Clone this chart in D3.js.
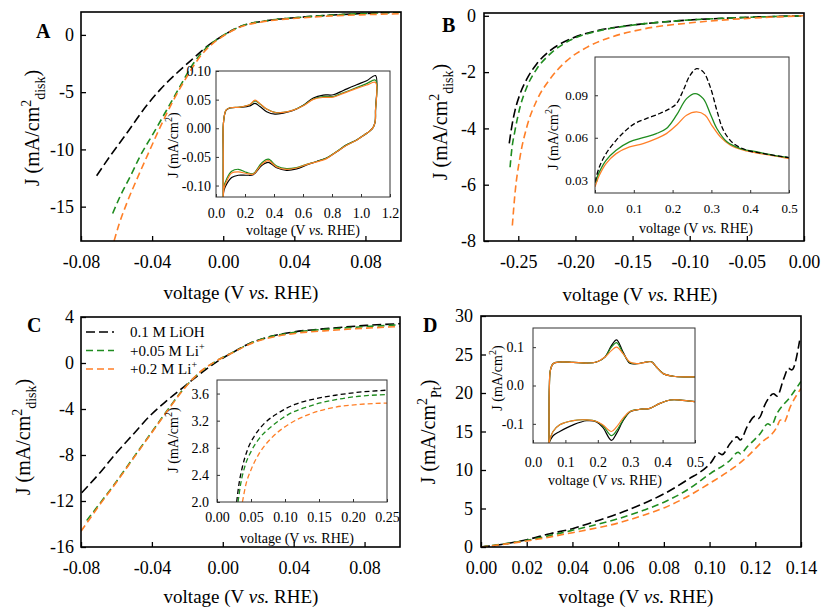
<!DOCTYPE html>
<html>
<head>
<meta charset="utf-8">
<script src="https://cdn.jsdelivr.net/npm/d3@7"></script>
<style>
  body { margin: 0; background: #fff; }
  svg { font-family: "Liberation Serif", "Times New Roman", serif; }
</style>
</head>
<body>
<div id="visual"></div>
<script>
// ---------- data ----------
// panel A: LSV, V vs RHE / mA cm-2 disk
let vA_black = [-0.0712, -0.0637, -0.0543, -0.045, -0.0356, -0.0262, -0.0168, -0.0093, 0, 0.0094, 0.0244, 0.043, 0.0618, 0.081, 0.1]
let jA_black = [-12.3, -10.6, -8.6, -6.56, -4.8, -3.35, -2.04, -1.03, -0.05, 0.72, 1.24, 1.53, 1.74, 1.88, 2.0]
let vA_green = [-0.0622, -0.058, -0.0524, -0.0468, -0.0393, -0.0318, -0.0243, -0.0168, -0.0093, 0, 0.0094, 0.0244, 0.043, 0.0618, 0.081, 0.1]
let jA_green = [-15.6, -14.1, -12.4, -10.6, -8.6, -6.56, -4.5, -2.5, -1.1, -0.05, 0.72, 1.24, 1.53, 1.74, 1.88, 1.98]
let vA_orange = [-0.0614, -0.0585, -0.054, -0.048, -0.042, -0.035, -0.028, -0.021, -0.014, -0.007, 0, 0.0094, 0.0244, 0.043, 0.0618, 0.081, 0.1]
let jA_orange = [-18, -16.5, -14.6, -12.4, -10.3, -7.9, -5.7, -3.8, -2.1, -0.9, -0.1, 0.68, 1.2, 1.47, 1.66, 1.77, 1.85]

// panel A inset: CV (anodic then cathodic branch)
let vA_up = [0.05, 0.05, 0.052, 0.069, 0.097, 0.166, 0.234, 0.269, 0.303, 0.349, 0.407, 0.464, 0.533, 0.602, 0.671, 0.740, 0.809, 0.878, 0.970, 1.039, 1.10]
let jA_up_black = [-0.12, -0.047, 0.011, 0.031, 0.0355, 0.0365, 0.039, 0.0434, 0.038, 0.029, 0.0247, 0.0265, 0.031, 0.04, 0.053, 0.058, 0.0585, 0.066, 0.076, 0.083, 0.092]
let jA_up_green = [-0.12, -0.047, 0.011, 0.0317, 0.0358, 0.037, 0.0414, 0.048, 0.0425, 0.0335, 0.0278, 0.028, 0.032, 0.0398, 0.051, 0.0555, 0.0555, 0.062, 0.071, 0.078, 0.084]
let jA_up_orange = [-0.12, -0.047, 0.011, 0.0317, 0.0358, 0.037, 0.0416, 0.049, 0.043, 0.0335, 0.0276, 0.0276, 0.0317, 0.0393, 0.0504, 0.0539, 0.0545, 0.0609, 0.0697, 0.0755, 0.080]
let vA_down = [1.10, 1.098, 1.085, 1.06, 1.02, 0.970, 0.901, 0.832, 0.763, 0.694, 0.625, 0.556, 0.487, 0.418, 0.361, 0.315, 0.257, 0.211, 0.154, 0.108, 0.074, 0.055, 0.05]
let jA_down_black = [0.03, 0.012, 0.002, -0.005, -0.012, -0.0205, -0.029, -0.041, -0.052, -0.058, -0.064, -0.071, -0.0735, -0.069, -0.0595, -0.065, -0.081, -0.082, -0.082, -0.086, -0.097, -0.108, -0.12]
let jA_down_green = [0.03, 0.012, 0.002, -0.005, -0.012, -0.0205, -0.029, -0.0405, -0.052, -0.058, -0.063, -0.0685, -0.0705, -0.066, -0.054, -0.0605, -0.079, -0.077, -0.0716, -0.075, -0.088, -0.102, -0.12]
let jA_down_orange = [0.03, 0.012, 0.002, -0.005, -0.012, -0.0208, -0.0296, -0.041, -0.053, -0.0587, -0.0634, -0.0693, -0.0718, -0.0675, -0.0565, -0.063, -0.080, -0.079, -0.076, -0.078, -0.092, -0.105, -0.12]

// panel B: LSV
let vB_black = [-0.2579, -0.2558, -0.2529, -0.2485, -0.2426, -0.2339, -0.2223, -0.2048, -0.1814, -0.1551, -0.1114, -0.0531, -0.0006]
let jB_black = [-4.53, -3.96, -3.37, -2.78, -2.25, -1.71, -1.24, -0.83, -0.53, -0.355, -0.18, -0.06, 0.0]
let vB_green = [-0.2572, -0.2558, -0.2529, -0.2485, -0.2426, -0.2339, -0.2223, -0.2048, -0.1814, -0.1551, -0.1114, -0.0531, -0.0006]
let jB_green = [-5.38, -4.79, -4.08, -3.25, -2.54, -1.89, -1.36, -0.87, -0.55, -0.36, -0.18, -0.06, 0.0]
let vB_orange = [-0.2552, -0.2529, -0.2485, -0.2426, -0.2339, -0.2223, -0.2077, -0.1901, -0.1697, -0.1406, -0.0968, -0.0531, -0.0006]
let jB_orange = [-7.45, -6.32, -5.02, -3.96, -3.01, -2.25, -1.6, -1.12, -0.77, -0.47, -0.24, -0.1, 0.0]

// panel B inset
let vBi_black = [0, 0.0112, 0.0285, 0.0545, 0.080, 0.102, 0.132, 0.167, 0.193, 0.210, 0.2275, 0.245, 0.262, 0.279, 0.297, 0.314, 0.331, 0.357, 0.392, 0.435, 0.478, 0.5]
let jBi_black = [0.0288, 0.0394, 0.0488, 0.0582, 0.0653, 0.070, 0.0735, 0.0771, 0.0806, 0.0841, 0.0935, 0.1041, 0.1088, 0.1065, 0.0959, 0.0794, 0.0653, 0.0559, 0.0512, 0.0488, 0.0469, 0.046]
let vBi_green = [0, 0.0112, 0.0285, 0.0545, 0.089, 0.124, 0.158, 0.184, 0.210, 0.236, 0.258, 0.279, 0.297, 0.314, 0.340, 0.375, 0.418, 0.461, 0.5]
let jBi_green = [0.0281, 0.0359, 0.0441, 0.0512, 0.0571, 0.0601, 0.0629, 0.0665, 0.0759, 0.0876, 0.0912, 0.0876, 0.077, 0.0665, 0.0571, 0.0524, 0.05, 0.0476, 0.046]
let vBi_orange = [0, 0.0112, 0.0285, 0.0545, 0.089, 0.124, 0.158, 0.184, 0.210, 0.236, 0.262, 0.284, 0.301, 0.323, 0.349, 0.383, 0.426, 0.470, 0.5]
let jBi_orange = [0.0253, 0.0335, 0.0418, 0.0488, 0.0535, 0.0559, 0.0594, 0.0629, 0.0688, 0.0759, 0.0782, 0.0759, 0.0688, 0.0606, 0.0547, 0.0512, 0.0488, 0.0469, 0.0453]

// panel C: LSV
let vC_black = [-0.0796, -0.0693, -0.0599, -0.0505, -0.0411, -0.0316, -0.0223, -0.0128, -0.0034, 0.006, 0.0154, 0.0248, 0.0398, 0.0624, 0.0812, 0.1]
let jC_black = [-11.28, -9.54, -7.79, -6.19, -4.59, -3.28, -2.11, -0.95, 0.1, 0.95, 1.72, 2.22, 2.69, 3.04, 3.27, 3.42]
let vC_green = [-0.0768, -0.0693, -0.0599, -0.0505, -0.0411, -0.0316, -0.0223, -0.0128, -0.0034, 0.006, 0.0154, 0.0248, 0.0398, 0.0624, 0.0812, 0.1]
let jC_green = [-13.7, -12.2, -10.28, -8.25, -6.22, -4.18, -2.28, -0.8, 0.2, 0.95, 1.7, 2.2, 2.65, 2.98, 3.17, 3.32]
let vC_orange = [-0.08, -0.0693, -0.0599, -0.0505, -0.0411, -0.0316, -0.0223, -0.0128, -0.0034, 0.006, 0.0154, 0.0248, 0.0398, 0.0624, 0.0812, 0.1]
let jC_orange = [-14.63, -12.3, -10.35, -8.31, -6.28, -4.24, -2.32, -0.78, 0.2, 0.93, 1.66, 2.13, 2.55, 2.85, 3.03, 3.18]

// panel C inset
let vCi_black = [0.0289, 0.0324, 0.0374, 0.0448, 0.0548, 0.0697, 0.0896, 0.1145, 0.139, 0.174, 0.209, 0.25]
let jCi_black = [2.0, 2.27, 2.52, 2.77, 2.97, 3.16, 3.31, 3.44, 3.51, 3.575, 3.62, 3.65]
let vCi_green = [0.0309, 0.0349, 0.0408, 0.0498, 0.0623, 0.0797, 0.1046, 0.1345, 0.169, 0.209, 0.25]
let jCi_green = [2.0, 2.27, 2.52, 2.74, 2.94, 3.11, 3.29, 3.41, 3.50, 3.56, 3.585]
let vCi_orange = [0.0374, 0.0423, 0.0498, 0.0623, 0.0797, 0.1046, 0.1345, 0.169, 0.209, 0.25]
let jCi_orange = [2.0, 2.25, 2.47, 2.72, 2.94, 3.14, 3.29, 3.39, 3.44, 3.46]

// panel D: LSV, mA cm-2 Pt
let vD_black = [0, 0.0069, 0.0127, 0.02, 0.0302, 0.04, 0.0492, 0.0601, 0.0711, 0.0803, 0.09, 0.1003, 0.104, 0.1055, 0.109, 0.112, 0.1135, 0.1164, 0.12, 0.1215, 0.1244, 0.128, 0.1295, 0.1325, 0.1345, 0.136, 0.1394]
let jD_black = [0, 0.22, 0.52, 0.95, 1.73, 2.38, 3.25, 4.33, 5.64, 6.94, 8.67, 10.84, 12.2, 12.0, 13.44, 14.3, 13.9, 15.6, 17.0, 16.7, 18.6, 19.9, 19.6, 21.9, 23.2, 23.0, 26.8]
let vD_green = [0, 0.02, 0.04, 0.0601, 0.0711, 0.0803, 0.09, 0.1003, 0.109, 0.1125, 0.1135, 0.1164, 0.1222, 0.1255, 0.127, 0.1295, 0.1353, 0.14]
let jD_green = [0, 0.87, 2.17, 3.68, 4.77, 5.85, 7.37, 9.54, 11.27, 12.3, 12.1, 13.0, 14.74, 16.0, 15.8, 17.34, 19.5, 21.5]
let vD_orange = [0, 0.02, 0.04, 0.0601, 0.0711, 0.0803, 0.09, 0.1003, 0.109, 0.1164, 0.1222, 0.1295, 0.131, 0.1325, 0.1353, 0.14]
let jD_orange = [0, 0.78, 1.86, 3.12, 4.12, 5.11, 6.5, 8.32, 9.97, 11.7, 13.44, 15.6, 16.5, 16.2, 18.2, 20.6]

// panel D inset: CV
let vD_up = [0.0495, 0.0495, 0.0505, 0.0536, 0.0619, 0.0825, 0.1237, 0.165, 0.196, 0.222, 0.242, 0.258, 0.278, 0.299, 0.32, 0.35, 0.366, 0.381, 0.402, 0.433, 0.474, 0.5]
let jD_up_black = [-0.15, -0.0897, -0.0034, 0.0397, 0.0569, 0.0612, 0.0603, 0.0586, 0.0612, 0.0741, 0.104, 0.119, 0.087, 0.058, 0.0569, 0.0612, 0.062, 0.0483, 0.031, 0.0241, 0.0224, 0.0224]
let jD_up_green = [-0.15, -0.0897, -0.0034, 0.0397, 0.0569, 0.0612, 0.0603, 0.0586, 0.0612, 0.0741, 0.100, 0.112, 0.084, 0.060, 0.0569, 0.0612, 0.062, 0.0483, 0.031, 0.0241, 0.0224, 0.0224]
let jD_up_orange = [-0.15, -0.0897, -0.0034, 0.0397, 0.0569, 0.0612, 0.0603, 0.0586, 0.0612, 0.0741, 0.091, 0.100, 0.083, 0.0612, 0.0569, 0.0612, 0.0612, 0.0483, 0.031, 0.0241, 0.0224, 0.0224]
let vD_down = [0.5, 0.454, 0.423, 0.392, 0.361, 0.330, 0.299, 0.278, 0.258, 0.242, 0.216, 0.196, 0.165, 0.124, 0.0825, 0.0619, 0.0495]
let jD_down_black = [-0.0422, -0.0379, -0.0379, -0.0466, -0.0595, -0.062, -0.069, -0.092, -0.125, -0.143, -0.11, -0.095, -0.092, -0.1026, -0.12, -0.131, -0.15]
let jD_down_green = [-0.0422, -0.0379, -0.0379, -0.0466, -0.0595, -0.062, -0.068, -0.09, -0.118, -0.131, -0.105, -0.094, -0.0897, -0.0914, -0.1026, -0.12, -0.15]
let jD_down_orange = [-0.0422, -0.0379, -0.0379, -0.0466, -0.0595, -0.062, -0.068, -0.085, -0.108, -0.120, -0.103, -0.094, -0.0897, -0.0914, -0.1026, -0.12, -0.15]

let legendLabels = ["0.1 M LiOH", "+0.05 M Li", "+0.2 M Li"]

// ---------- drawing ----------
const BLACK = "#000000", GREEN = "#1f8c1f", ORANGE = "#ff7f27"

const svg = d3.select("#visual")
    .append("svg")
    .attr("width", 821)
    .attr("height", 608)

let clipCount = 0
const fix = s => s.replace("\u2212", "-")

function makePanel(cfg) {
    let x = d3.scaleLinear().domain(cfg.xDom).range([cfg.left, cfg.right])
    let y = d3.scaleLinear().domain(cfg.yDom).range([cfg.bottom, cfg.top])
    let g = svg.append("g")
    let w = cfg.right - cfg.left, h = cfg.bottom - cfg.top

    if (cfg.inset) {
        g.append("rect").attr("x", cfg.left).attr("y", cfg.top)
            .attr("width", w).attr("height", h).attr("fill", "#fff")
    }
    let id = "clip" + (clipCount++)
    g.append("clipPath").attr("id", id).append("rect")
        .attr("x", cfg.left).attr("y", cfg.top).attr("width", w).attr("height", h)

    let fs = cfg.inset ? cfg.tickFont || 13 : 18
    let tick = cfg.inset ? 3 : 5

    let xAxis = g.append("g").attr("transform", "translate(0," + cfg.bottom + ")")
        .call(d3.axisBottom(x).tickValues(cfg.xTicks).tickSize(-tick)
            .tickPadding(cfg.xPad).tickFormat(d => fix(d3.format(cfg.xFmt)(d))))
    let yAxis = g.append("g").attr("transform", "translate(" + cfg.left + ",0)")
        .call(d3.axisLeft(y).tickValues(cfg.yTicks).tickSize(-tick)
            .tickPadding(cfg.yPad).tickFormat(d => fix(d3.format(cfg.yFmt)(d))))
    for (let a of [xAxis, yAxis]) {
        a.select(".domain").remove()
        a.attr("font-family", null).attr("font-size", fs)
        a.selectAll("line").attr("stroke", cfg.inset ? "#333" : "#000").attr("stroke-width", cfg.inset ? 1 : 1.3)
        a.selectAll("text").attr("fill", "#000")
    }

    let plot = g.append("g").attr("clip-path", "url(#" + id + ")")

    g.append("rect").attr("x", cfg.left).attr("y", cfg.top)
        .attr("width", w).attr("height", h)
        .attr("fill", "none")
        .attr("stroke", cfg.inset ? "#333" : "#000")
        .attr("stroke-width", cfg.inset ? 1 : 1.6)

    return { x, y, g, plot }
}

function series(p, vs, js, color, dash, width, curve) {
    let pts = vs.map((v, i) => [v, js[i]])
    p.plot.append("path")
        .datum(pts)
        .attr("fill", "none")
        .attr("stroke", color)
        .attr("stroke-width", width)
        .attr("stroke-dasharray", dash)
        .attr("stroke-linejoin", "round")
        .attr("d", d3.line().x(d => p.x(d[0])).y(d => p.y(d[1])).curve(curve))
}

function xLabel(cx, by, size) {
    let t = svg.append("text").attr("x", cx).attr("y", by)
        .attr("text-anchor", "middle").attr("font-size", size)
    t.append("tspan").text("voltage (V ")
    t.append("tspan").attr("font-style", "italic").text("vs.")
    t.append("tspan").text(" RHE)")
}

function yLabel(cx, cy, size, sub) {
    let small = Math.round(size * 0.68)
    let t = svg.append("text")
        .attr("transform", "translate(" + cx + "," + cy + ") rotate(-90)")
        .attr("text-anchor", "middle").attr("dy", "0.35em")
        .attr("font-size", size)
    t.append("tspan").text("J (mA/cm")
    t.append("tspan").attr("font-size", small).attr("dy", -size * 0.42).text("2")
    if (sub) {
        t.append("tspan").attr("font-size", small).attr("dy", size * 0.7).text(sub)
        t.append("tspan").attr("dy", -size * 0.28).text(")")
    } else {
        t.append("tspan").attr("dy", size * 0.42).text(")")
    }
}

function letter(s, x, y) {
    svg.append("text").attr("x", x).attr("y", y).attr("font-size", 20)
        .attr("font-weight", "bold").text(s)
}

const mono = d3.curveMonotoneX
const cr = d3.curveCatmullRom.alpha(0.5)
const mainDash = { black: "9,4", green: "7,4", orange: "7,4" }

// ----- panel A -----
let pA = makePanel({ left: 81, right: 401, top: 12, bottom: 241,
    xDom: [-0.08, 0.1], yDom: [-18, 2],
    xTicks: [-0.08, -0.04, 0, 0.04, 0.08], yTicks: [0, -5, -10, -15],
    xFmt: ".2f", yFmt: "d", xPad: 14, yPad: 7 })
series(pA, vA_black, jA_black, BLACK, mainDash.black, 1.6, mono)
series(pA, vA_green, jA_green, GREEN, mainDash.green, 1.6, mono)
series(pA, vA_orange, jA_orange, ORANGE, mainDash.orange, 1.6, mono)
letter("A", 36, 38)
yLabel(32, 128, 20, "disk")
xLabel(241, 299, 19)

let iA = makePanel({ inset: true, left: 216, right: 390, top: 71, bottom: 197,
    xDom: [0, 1.2], yDom: [-0.12, 0.10],
    xTicks: [0, 0.2, 0.4, 0.6, 0.8, 1.0, 1.2], yTicks: [0.10, 0.05, 0, -0.05, -0.10],
    xFmt: ".1f", yFmt: ".2f", xPad: 11, yPad: 5, tickFont: 14 })
series(iA, vA_up.concat(vA_down), jA_up_black.concat(jA_down_black), BLACK, null, 1.2, cr)
series(iA, vA_up.concat(vA_down), jA_up_green.concat(jA_down_green), GREEN, null, 1.2, cr)
series(iA, vA_up.concat(vA_down), jA_up_orange.concat(jA_down_orange), ORANGE, null, 1.2, cr)
yLabel(173, 145, 14, null)
xLabel(303, 235, 14)

// ----- panel B -----
let pB = makePanel({ left: 484, right: 804, top: 13, bottom: 241,
    xDom: [-0.28, 0], yDom: [-8, 0.1],
    xTicks: [-0.25, -0.2, -0.15, -0.1, -0.05, 0], yTicks: [0, -2, -4, -6, -8],
    xFmt: ".2f", yFmt: "d", xPad: 14, yPad: 8 })
series(pB, vB_black, jB_black, BLACK, mainDash.black, 1.6, mono)
series(pB, vB_green, jB_green, GREEN, mainDash.green, 1.6, mono)
series(pB, vB_orange, jB_orange, ORANGE, mainDash.orange, 1.6, mono)
letter("B", 442, 32)
yLabel(440, 122, 20, "disk")
xLabel(640, 301, 19)

let iB = makePanel({ inset: true, left: 595, right: 789, top: 57, bottom: 193,
    xDom: [0, 0.5], yDom: [0.021, 0.117],
    xTicks: [0, 0.1, 0.2, 0.3, 0.4, 0.5], yTicks: [0.03, 0.06, 0.09],
    xFmt: ".1f", yFmt: ".2f", xPad: 11, yPad: 7, tickFont: 13 })
series(iB, vBi_orange, jBi_orange, ORANGE, null, 1.3, cr)
series(iB, vBi_green, jBi_green, GREEN, null, 1.3, cr)
series(iB, vBi_black, jBi_black, BLACK, "5,2.5", 1.3, cr)
yLabel(553, 137, 14, null)
xLabel(696, 233, 14)

// ----- panel C -----
let pC = makePanel({ left: 81, right: 400, top: 317, bottom: 547,
    xDom: [-0.08, 0.1], yDom: [-16, 4],
    xTicks: [-0.08, -0.04, 0, 0.04, 0.08], yTicks: [4, 0, -4, -8, -12, -16],
    xFmt: ".2f", yFmt: "d", xPad: 14, yPad: 7 })
series(pC, vC_black, jC_black, BLACK, mainDash.black, 1.6, mono)
series(pC, vC_green, jC_green, GREEN, mainDash.green, 1.6, mono)
series(pC, vC_orange, jC_orange, ORANGE, mainDash.orange, 1.6, mono)
letter("C", 27, 332)
yLabel(23, 437, 20, "disk")
xLabel(241, 603, 19)

// legend
let legendColors = [BLACK, GREEN, ORANGE]
let legendDash = [mainDash.black, mainDash.green, mainDash.orange]
let legendY = d3.scalePoint().domain(legendLabels).range([332, 369])
let lg = svg.append("g")
legendLabels.forEach((lab, i) => {
    let yy = legendY(lab)
    lg.append("line").attr("x1", 86).attr("x2", 114).attr("y1", yy).attr("y2", yy)
        .attr("stroke", legendColors[i]).attr("stroke-width", 1.6).attr("stroke-dasharray", legendDash[i])
    let t = lg.append("text").attr("x", 130).attr("y", yy + 5).attr("font-size", 15)
    t.append("tspan").text(lab)
    if (i > 0) t.append("tspan").attr("font-size", 10).attr("dy", -6).text("+")
})

let iC = makePanel({ inset: true, left: 217, right: 387, top: 380, bottom: 502,
    xDom: [0, 0.25], yDom: [2.0, 3.8],
    xTicks: [0, 0.05, 0.1, 0.15, 0.2, 0.25], yTicks: [2.0, 2.4, 2.8, 3.2, 3.6],
    xFmt: ".2f", yFmt: ".1f", xPad: 10, yPad: 8, tickFont: 14 })
series(iC, vCi_black, jCi_black, BLACK, "5,3", 1.3, mono)
series(iC, vCi_green, jCi_green, GREEN, "5,3", 1.3, mono)
series(iC, vCi_orange, jCi_orange, ORANGE, "5,3", 1.3, mono)
yLabel(173, 440, 14, null)
xLabel(297, 543, 14)

// ----- panel D -----
let pD = makePanel({ left: 481, right: 801, top: 316, bottom: 547,
    xDom: [0, 0.14], yDom: [0, 30],
    xTicks: [0, 0.02, 0.04, 0.06, 0.08, 0.1, 0.12, 0.14], yTicks: [0, 5, 10, 15, 20, 25, 30],
    xFmt: ".2f", yFmt: "d", xPad: 14, yPad: 8 })
series(pD, vD_black, jD_black, BLACK, mainDash.black, 1.6, mono)
series(pD, vD_green, jD_green, GREEN, mainDash.green, 1.6, mono)
series(pD, vD_orange, jD_orange, ORANGE, mainDash.orange, 1.6, mono)
letter("D", 423, 332)
yLabel(428, 432, 20, "Pt")
xLabel(636, 603, 19)

let iD = makePanel({ inset: true, left: 533, right: 695, top: 328, bottom: 443,
    xDom: [0, 0.5], yDom: [-0.15, 0.15],
    xTicks: [0, 0.1, 0.2, 0.3, 0.4, 0.5], yTicks: [-0.1, 0, 0.1],
    xFmt: ".1f", yFmt: ".1f", xPad: 14, yPad: 9, tickFont: 14 })
series(iD, vD_up, jD_up_black, BLACK, null, 1.2, cr)
series(iD, vD_down, jD_down_black, BLACK, null, 1.2, cr)
series(iD, vD_up, jD_up_green, GREEN, null, 1.2, cr)
series(iD, vD_down, jD_down_green, GREEN, null, 1.2, cr)
series(iD, vD_up, jD_up_orange, ORANGE, null, 1.2, cr)
series(iD, vD_down, jD_down_orange, ORANGE, null, 1.2, cr)
yLabel(497, 378, 14, null)
xLabel(605, 485, 14)
</script>
</body>
</html>
